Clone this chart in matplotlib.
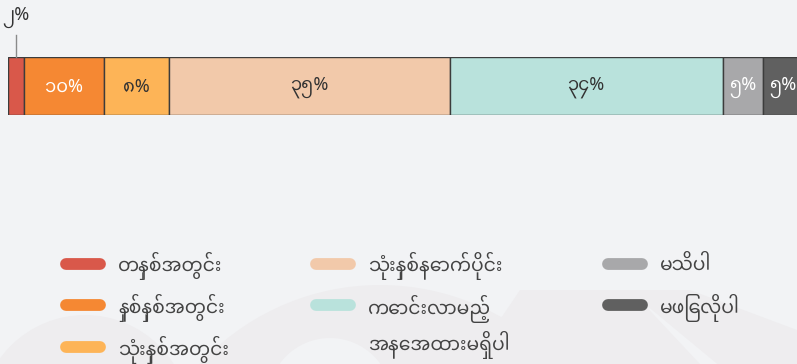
import matplotlib
matplotlib.use("Agg")
import matplotlib.pyplot as plt
from matplotlib.patches import Circle, Polygon
from matplotlib.lines import Line2D

# ---- data ----
categories = ["တနှစ်အတွင်း", "နှစ်နှစ်အတွင်း", "သုံးနှစ်အတွင်း", "သုံးနှစ်နောက်ပိုင်း",
              "ကောင်းလာမည့်\nအနေအထားမရှိပါ", "မသိပါ", "မဖြေလိုပါ"]
values = [2, 10, 8, 35, 34, 5, 5]
value_labels = ["၂%", "၁၀%", "၈%", "၃၅%", "၃၄%", "၅%", "၅%"]
colors = ["#d9584a", "#f58833", "#fdb457", "#f2c9aa", "#b9e2dc", "#a8a8aa", "#606060"]
label_colors = [None, "white", "#333333", "#333333", "#333333", "white", "white"]

FONT = ["Noto Sans Myanmar", "DejaVu Sans"]
BG = "#f2f3f5"
W, H = 797, 364

fig = plt.figure(figsize=(W / 100, H / 100), dpi=100, facecolor=BG)

def fx(x):
    return x / W

def fy(y):
    return 1 - y / H

# faint background decoration
deco = "#eeedef"
bgax = fig.add_axes([0, 0, 1, 1], zorder=0)
bgax.set_xlim(0, W)
bgax.set_ylim(H, 0)
bgax.axis("off")
bgax.add_patch(Circle((380, 530), 245, color=deco, lw=0))
bgax.add_patch(Circle((85, 420), 105, color=deco, lw=0))
bgax.add_patch(Circle((330, 400), 62, color=BG, lw=0))
bgax.add_patch(Polygon([(520, 290), (690, 290), (797, 330), (797, 364), (470, 364)],
                       closed=True, color=deco, lw=0))
bgax.add_patch(Polygon([(640, 300), (797, 430), (700, 364)], closed=True, color=BG, lw=0))

# ---- stacked bar ----
ax = fig.add_axes([fx(8), fy(115), 803 / W, 58 / H], zorder=2)
ax.set_xlim(0, 100)
ax.set_ylim(0, 1)
ax.axis("off")
left = 0
centers = []
for v, c in zip(values, colors):
    ax.barh(0.5, v, left=left, height=1.0, color=c, edgecolor="#3c3c3c", linewidth=1.0)
    centers.append(left + v / 2)
    left += v

for cx, lab, lc in zip(centers, value_labels, label_colors):
    if lc is None:
        continue
    ax.text(cx, 0.48, lab, ha="center", va="center", fontsize=13, color=lc,
            family=FONT, fontweight="bold" if lc == "white" else "normal")

# small segment: label above with leader line
ax.plot([centers[0], centers[0]], [1.0, 1.0 + 22 / 58], color="#8a8a8a", lw=1.0,
        clip_on=False)
ax.text(centers[0], 1.0 + 40 / 58, value_labels[0], ha="center", va="center",
        fontsize=13, color="#333333", family=FONT, clip_on=False)

# ---- legend (manual, 3 columns) ----
col_x = [60, 310, 602]
row_y = [264, 305, 347]
slots = [(0, 0), (0, 1), (0, 2), (1, 0), (1, 1), (2, 0), (2, 1)]
for (ci, ri), lab, c in zip(slots, categories, colors):
    x0 = col_x[ci]
    y0 = row_y[ri]
    fig.add_artist(Line2D([fx(x0 + 5.5), fx(x0 + 45 - 5.5)], [fy(y0), fy(y0)],
                          color=c, lw=8.5, solid_capstyle="round",
                          transform=fig.transFigure, zorder=3))
    if "\n" in lab:
        fig.text(fx(x0 + 58), fy((row_y[ri] + row_y[ri + 1]) / 2 + 1), lab, ha="left",
                 va="center", fontsize=13.5, color="#444444", family=FONT,
                 linespacing=1.47, zorder=3)
    else:
        fig.text(fx(x0 + 58), fy(y0 - 2), lab, ha="left", va="center_baseline",
                 fontsize=13.5, color="#444444", family=FONT, zorder=3)

fig.savefig("out.png", dpi=100, facecolor=BG)
